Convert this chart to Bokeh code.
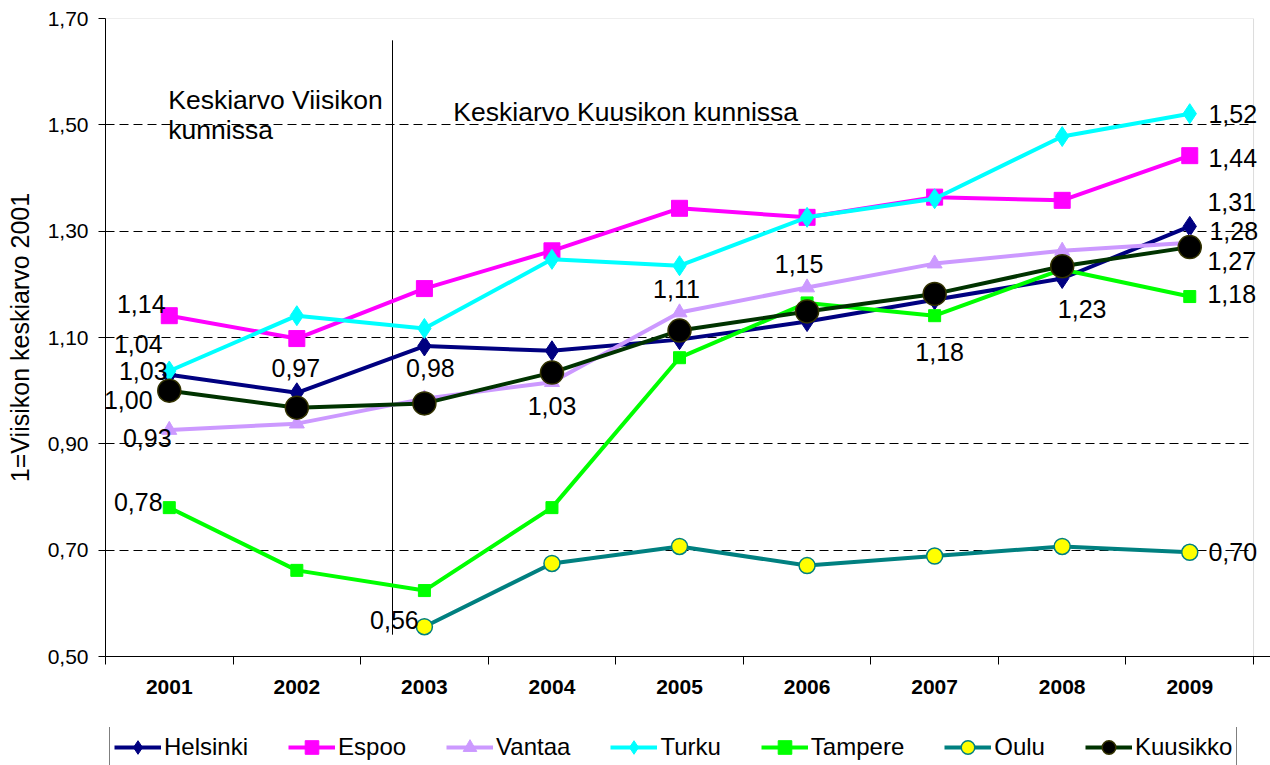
from bokeh.plotting import figure
from bokeh.layouts import column
from bokeh.models import (Range1d, FixedTicker, CustomJSTickFormatter, Legend, LegendItem,
                          Label, BoxAnnotation, ColumnDataSource)
from bokeh.core.properties import value
from bokeh.embed import file_html
from bokeh.resources import INLINE

# ---------------- data ----------------
years = [2001, 2002, 2003, 2004, 2005, 2006, 2007, 2008, 2009]
helsinki = [1.030, 0.996, 1.084, 1.075, 1.096, 1.130, 1.171, 1.211, 1.309]
espoo = [1.141, 1.098, 1.192, 1.263, 1.343, 1.326, 1.364, 1.358, 1.442]
vantaa = [0.926, 0.938, 0.985, 1.016, 1.147, 1.194, 1.239, 1.263, 1.278]
turku = [1.037, 1.141, 1.117, 1.247, 1.235, 1.326, 1.361, 1.478, 1.521]
tampere = [0.780, 0.662, 0.624, 0.780, 1.062, 1.165, 1.141, 1.228, 1.177]
oulu_years = [2003, 2004, 2005, 2006, 2007, 2008, 2009]
oulu = [0.556, 0.675, 0.707, 0.671, 0.689, 0.707, 0.696]
kuusikko = [1.000, 0.968, 0.976, 1.034, 1.113, 1.149, 1.182, 1.234, 1.270]
y_ticks = [0.5, 0.7, 0.9, 1.1, 1.3, 1.5, 1.7]
y_title = "1=Viisikon keskiarvo 2001"
note_left = ["Keskiarvo Viisikon", "kunnissa"]
note_right = "Keskiarvo Kuusikon kunnissa"

FONT = "Liberation Sans"

p = figure(width=1270, height=727, output_backend="svg", toolbar_location=None,
           x_range=Range1d(2000.5, 2009.633), y_range=Range1d(0.5, 1.7),
           min_border_left=105, min_border_right=0, min_border_top=18, min_border_bottom=71)
p.outline_line_color = None
p.background_fill_color = "white"

# axes
xa = p.xaxis[0]
xa.ticker = FixedTicker(ticks=years, minor_ticks=[y - 0.5 for y in years] + [years[-1] + 0.5])
xa.major_tick_line_color = None
xa.major_tick_out = 7
xa.major_tick_in = 0
xa.minor_tick_out = 8
xa.minor_tick_in = 0
xa.minor_tick_line_color = "black"
xa.major_label_text_font = FONT
xa.major_label_text_font_size = "21px"
xa.major_label_text_font_style = "bold"
xa.major_label_text_color = "black"
xa.major_label_standoff = 15
xa.axis_line_color = "black"

ya = p.yaxis[0]
ya.ticker = FixedTicker(ticks=y_ticks, minor_ticks=[])
ya.formatter = CustomJSTickFormatter(code="return tick.toFixed(2).replace('.', ',');")
ya.major_tick_out = 7
ya.major_tick_in = 0
ya.major_tick_line_color = "black"
ya.major_label_text_font = FONT
ya.major_label_text_font_size = "21px"
ya.major_label_text_color = "black"
ya.major_label_standoff = 10
ya.axis_line_color = "black"
ya.axis_label = y_title
ya.axis_label_text_font = FONT
ya.axis_label_text_font_size = "25px"
ya.axis_label_text_font_style = "normal"
ya.axis_label_text_color = "black"
ya.axis_label_standoff = 11

p.xgrid.grid_line_color = None
p.ygrid.ticker = FixedTicker(ticks=y_ticks[1:-1])
p.ygrid.grid_line_color = "black"
p.ygrid.grid_line_dash = "9 5"
p.ygrid.grid_line_width = 1
try:
    p.ygrid.cross_bounds = (2000.5, 2009.5)
except Exception:
    pass

# plot-area border (grey)
p.add_layout(BoxAnnotation(left=2000.5, right=2009.5, bottom=0.5, top=1.7,
                           fill_color=None, line_color="#8c8c8c", line_width=1,
                           level="underlay"))

# divider line
DIV_X = 2002.75
p.segment(x0=[DIV_X], y0=[0.541], x1=[DIV_X], y1=[1.659], line_color="black", line_width=1)

series = [
    ("Helsinki", years, helsinki, "#000080", "diamond", 20, "#000080", "#000080", 1),
    ("Espoo", years, espoo, "#FF00FF", "square", 16, "#FF00FF", "#FF00FF", 1),
    ("Vantaa", years, vantaa, "#CC99FF", "triangle", 15, "#CC99FF", "#CC99FF", 1),
    ("Turku", years, turku, "#00FFFF", "diamond", 20, "#00FFFF", "#00FFFF", 1),
    ("Tampere", years, tampere, "#00FF00", "square", 12, "#00FF00", "#00FF00", 1),
    ("Oulu", oulu_years, oulu, "#008080", "circle", 16, "#FFFF00", "#008080", 1.5),
    ("Kuusikko", years, kuusikko, "#003300", "circle", 23, "#000000", "#333300", 1.5),
]

# legend strip below the chart: same series, plotted out of its view, only the legend shows
lf = figure(width=1270, height=38, output_backend="svg", toolbar_location=None,
            x_axis_location=None, y_axis_location=None,
            x_range=Range1d(0, 1), y_range=Range1d(0, 0.1),
            min_border_left=105, min_border_right=0, min_border_top=0, min_border_bottom=0)
lf.outline_line_color = None
for g in lf.grid:
    g.visible = False

items = []
for name, xs, ys, lc, mk, ms, fc, oc, olw in series:
    p.line(xs, ys, line_color=lc, line_width=4)
    p.scatter(xs, ys, marker=mk, size=ms, fill_color=fc, line_color=oc, line_width=olw)
    llr = lf.line(xs, ys, line_color=lc, line_width=4)
    lsr = lf.scatter(xs, ys, marker=mk, size=ms, fill_color=fc, line_color=oc, line_width=olw)
    items.append(LegendItem(label=name, renderers=[llr, lsr]))

def fmt(v):
    return f"{v:.2f}".replace(".", ",")

# data labels: (x values, series values, index, dx, dy) offsets in screen px (down positive)
label_specs = [
    (years, espoo, 0, -28, -12),
    (years, turku, 0, -31, -27),
    (years, helsinki, 0, -26, -4),
    (years, kuusikko, 0, -41, 9),
    (years, vantaa, 0, -22, 8),
    (years, tampere, 0, -31, -6),
    (years, kuusikko, 1, -1, -40),
    (years, kuusikko, 2, 6, -35),
    (oulu_years, oulu, 0, -30, -7),
    (years, kuusikko, 3, 0, 33),
    (years, kuusikko, 4, -3, -42),
    (years, kuusikko, 5, -8, -47),
    (years, kuusikko, 6, 5, 58),
    (years, kuusikko, 7, 20, 43),
    (years, turku, 8, 43, 0),
    (years, espoo, 8, 43, 2),
    (years, helsinki, 8, 42, -24),
    (years, vantaa, 8, 44, -12),
    (years, kuusikko, 8, 42, 14),
    (years, tampere, 8, 42, -3),
    (oulu_years, oulu, 6, 43, 0),
]
lab = ColumnDataSource(dict(
    x=[xs[i] for xs, ys, i, dx, dy in label_specs],
    y=[ys[i] for xs, ys, i, dx, dy in label_specs],
    text=[fmt(ys[i]) for xs, ys, i, dx, dy in label_specs],
    dx=[dx for xs, ys, i, dx, dy in label_specs],
    dy=[dy for xs, ys, i, dx, dy in label_specs],
))
p.text(x="x", y="y", text="text", x_offset="dx", y_offset="dy", source=lab,
       text_font=value(FONT), text_font_size="25px", text_color="black",
       text_align="center", text_baseline="middle")

# notes
for txt, yy in ((note_left[0], 1.546), (note_left[1], 1.490)):
    p.add_layout(Label(x=2001, y=yy, text=txt, x_offset=-1, text_font=FONT,
                       text_font_size="26.5px", text_color="black", text_baseline="alphabetic"))
p.add_layout(Label(x=2003.227, y=1.525, text=note_right, text_font=FONT,
                   text_font_size="26.5px", text_color="black", text_baseline="alphabetic"))

legend = Legend(items=items, orientation="horizontal", location=(4, -4),
                label_text_font=FONT, label_text_font_size="24px", label_text_color="black",
                glyph_width=47, glyph_height=34, label_standoff=3, spacing=40, padding=4,
                border_line_color="black", border_line_width=1, background_fill_color="white",
                background_fill_alpha=1.0, margin=0)
lf.add_layout(legend)

layout = column(p, lf, spacing=0)
open("out.html", "w").write(file_html(layout, INLINE))
